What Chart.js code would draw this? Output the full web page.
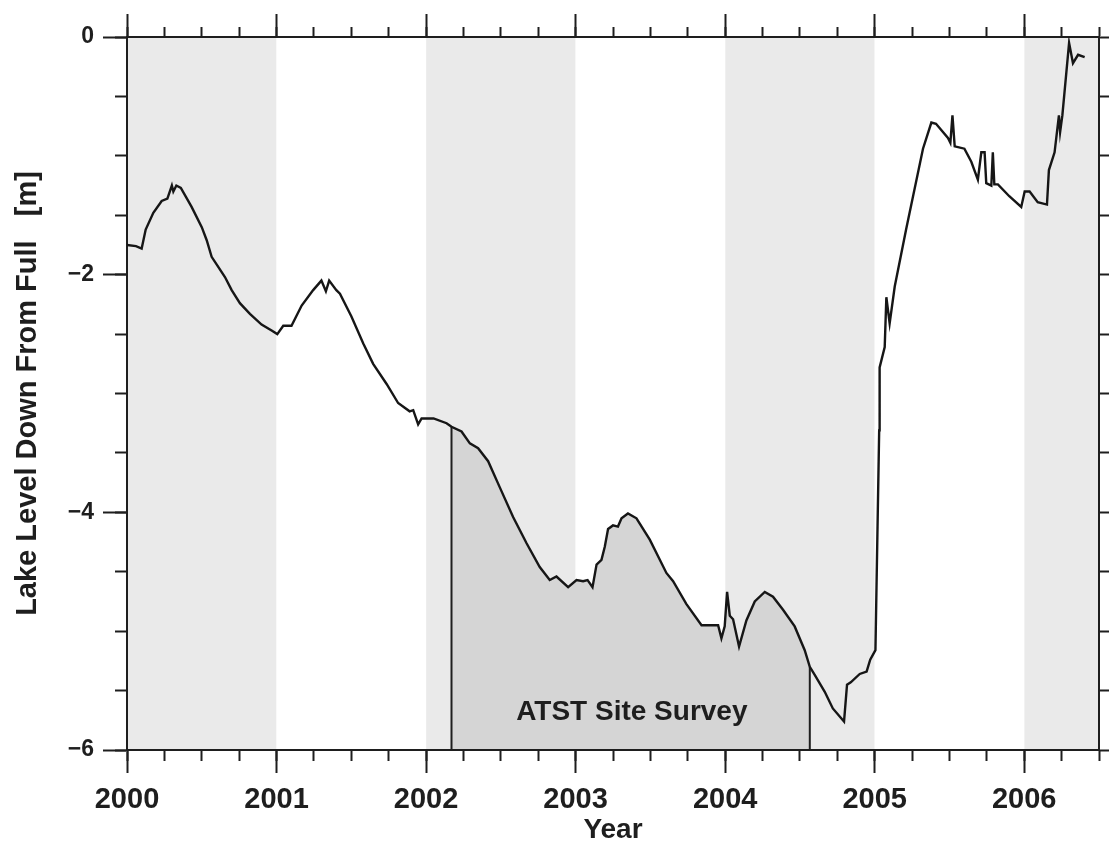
<!DOCTYPE html>
<html>
<head>
<meta charset="utf-8">
<title>Lake Level Down From Full</title>
<script src="https://cdn.jsdelivr.net/npm/chart.js@4.4.1/dist/chart.umd.min.js"></script>
<style>
    html, body { margin: 0; padding: 0; background: #ffffff; }
    #chartBox { width: 1113px; height: 847px; }
</style>
</head>
<body>
<div id="chartBox"><canvas id="lakeChart" width="1113" height="847"></canvas></div>
<script>
// Lake level readings: decimal year and metres below full
const years = [
    2000.000, 2000.060, 2000.098, 2000.125, 2000.176, 2000.232, 2000.270, 2000.300, 2000.310, 2000.330,
    2000.360, 2000.432, 2000.500, 2000.533, 2000.566, 2000.655, 2000.700, 2000.755, 2000.822, 2000.900,
    2000.967, 2001.005, 2001.045, 2001.100, 2001.168, 2001.245, 2001.300, 2001.330, 2001.352, 2001.400,
    2001.424, 2001.500, 2001.580, 2001.646, 2001.736, 2001.813, 2001.890, 2001.914, 2001.947, 2001.970,
    2002.050, 2002.137, 2002.170, 2002.237, 2002.293, 2002.348, 2002.415, 2002.493, 2002.582, 2002.672,
    2002.760, 2002.827, 2002.872, 2002.950, 2003.006, 2003.050, 2003.080, 2003.113, 2003.140, 2003.173,
    2003.195, 2003.217, 2003.250, 2003.283, 2003.307, 2003.350, 2003.407, 2003.496, 2003.607, 2003.652,
    2003.740, 2003.842, 2003.953, 2003.975, 2003.997, 2004.013, 2004.031, 2004.053, 2004.093, 2004.142,
    2004.198, 2004.265, 2004.320, 2004.387, 2004.465, 2004.532, 2004.566, 2004.600, 2004.666, 2004.720,
    2004.795, 2004.815, 2004.840, 2004.900, 2004.946, 2004.970, 2005.005, 2005.030, 2005.033, 2005.067,
    2005.078, 2005.100, 2005.134, 2005.210, 2005.323, 2005.379, 2005.410, 2005.490, 2005.506, 2005.520,
    2005.535, 2005.600, 2005.646, 2005.690, 2005.713, 2005.735, 2005.746, 2005.780, 2005.790, 2005.800,
    2005.824, 2005.900, 2005.980, 2006.003, 2006.036, 2006.090, 2006.152, 2006.165, 2006.203, 2006.232,
    2006.240, 2006.255, 2006.300, 2006.326, 2006.360, 2006.404
];
const levels = [
    -1.75, -1.76, -1.78, -1.62, -1.48, -1.38, -1.36, -1.25, -1.30, -1.25,
    -1.27, -1.43, -1.60, -1.71, -1.85, -2.02, -2.13, -2.24, -2.33, -2.42,
    -2.47, -2.50, -2.43, -2.43, -2.26, -2.13, -2.05, -2.14, -2.05, -2.13,
    -2.16, -2.35, -2.58, -2.75, -2.92, -3.08, -3.15, -3.14, -3.26, -3.21,
    -3.21, -3.25, -3.28, -3.32, -3.42, -3.46, -3.57, -3.79, -4.04, -4.26,
    -4.46, -4.57, -4.54, -4.63, -4.57, -4.58, -4.57, -4.63, -4.44, -4.40,
    -4.29, -4.14, -4.11, -4.12, -4.05, -4.01, -4.05, -4.23, -4.51, -4.58,
    -4.77, -4.95, -4.95, -5.06, -4.96, -4.67, -4.87, -4.90, -5.13, -4.91,
    -4.75, -4.67, -4.71, -4.82, -4.96, -5.16, -5.30, -5.37, -5.51, -5.65,
    -5.76, -5.45, -5.43, -5.36, -5.34, -5.24, -5.16, -3.31, -2.78, -2.61,
    -2.19, -2.41, -2.10, -1.62, -0.94, -0.72, -0.73, -0.85, -0.89, -0.66,
    -0.92, -0.94, -1.05, -1.20, -0.97, -0.97, -1.23, -1.25, -0.97, -1.24,
    -1.24, -1.34, -1.43, -1.30, -1.30, -1.39, -1.41, -1.12, -0.97, -0.66,
    -0.80, -0.66, -0.05, -0.22, -0.15, -0.17
];

// Axis ranges and labelled ticks
const xMin = 2000;
const xMax = 2006.5;
const yMin = -6;
const yMax = 0;
const yearTicks = [2000, 2001, 2002, 2003, 2004, 2005, 2006];
const levelTicks = [0, -2, -4, -6];

// Shaded year bands
const bandStarts = [2000, 2002, 2004, 2006];
const bandEnds = [2001, 2003, 2005, 2006.5];

// Survey period
const surveyStart = 2002.170;
const surveyEnd = 2004.566;
const surveyLabel = 'ATST Site Survey';
const surveyLabelX = 2003.376;
const surveyLabelY = -5.68;

const axisColor = '#1e1e1e';
const textColor = '#1e1e1e';
const fontFamily = '"Liberation Sans", Arial, Helvetica, sans-serif';

Chart.defaults.font.family = fontFamily;

const lakePoints = years.map((x, i) => ({ x: x, y: levels[i] }));
const surveyPoints = lakePoints.filter(p => p.x >= surveyStart && p.x <= surveyEnd);

function levelAt(x) {
    const point = lakePoints.find(p => p.x === x);
    return point ? point.y : yMin;
}

// Format level tick with a real minus sign
function formatLevel(value) {
    if (value === 0) return '0';
    return (value < 0 ? '\u2212' : '') + Math.abs(value);
}

// Shared settings for the frame axes (ticks outside, no grid)
function frameAxis(position, tickLength, weight, range) {
    return {
        type: 'linear',
        position: position,
        weight: weight,
        min: range[0],
        max: range[1],
        grid: {
            drawOnChartArea: false,
            drawTicks: true,
            tickLength: tickLength,
            tickWidth: 2,
            tickColor: axisColor
        },
        border: { display: true, width: 2, color: axisColor }
    };
}

function bandDatasets() {
    return bandStarts.map((start, i) => ({
        label: 'band' + i,
        data: [{ x: start, y: yMax }, { x: bandEnds[i], y: yMax }],
        fill: 'start',
        backgroundColor: '#eaeaea',
        borderColor: 'transparent',
        borderWidth: 0,
        pointRadius: 0,
        order: 4
    }));
}

function edgeDataset(x) {
    return {
        label: 'edge' + x,
        data: [{ x: x, y: yMin }, { x: x, y: levelAt(x) }],
        borderColor: axisColor,
        borderWidth: 2,
        pointRadius: 0,
        fill: false,
        order: 1
    };
}

// Survey caption, placed in data coordinates
const surveyLabelPlugin = {
    id: 'surveyLabel',
    afterDatasetsDraw(chart) {
        const { ctx, scales } = chart;
        ctx.save();
        ctx.font = 'bold 28px ' + fontFamily;
        ctx.fillStyle = textColor;
        ctx.textAlign = 'center';
        ctx.textBaseline = 'middle';
        ctx.fillText(surveyLabel, scales.x.getPixelForValue(surveyLabelX), scales.y.getPixelForValue(surveyLabelY));
        ctx.restore();
    }
};

function initializeLakeChart() {
    const ctx = document.getElementById('lakeChart');
    const xRange = [xMin, xMax];
    const yRange = [yMin, yMax];

    new Chart(ctx, {
        type: 'line',
        data: {
            datasets: [
                {
                    label: 'Lake level',
                    data: lakePoints,
                    borderColor: '#161616',
                    borderWidth: 2.4,
                    pointRadius: 0,
                    fill: false,
                    order: 0
                },
                edgeDataset(surveyStart),
                edgeDataset(surveyEnd),
                {
                    label: 'Survey',
                    data: surveyPoints,
                    fill: 'start',
                    backgroundColor: '#d5d5d5',
                    borderColor: 'transparent',
                    borderWidth: 0,
                    pointRadius: 0,
                    order: 2
                }
            ].concat(bandDatasets())
        },
        options: {
            responsive: false,
            maintainAspectRatio: false,
            animation: false,
            layout: { padding: 0 },
            plugins: {
                legend: { display: false },
                tooltip: { enabled: false },
                // fills go down first so the frame lines sit on top of them
                filler: { drawTime: 'beforeDraw' }
            },
            scales: {
                x: Object.assign(frameAxis('bottom', 23, 1, xRange), {
                    afterFit: s => { s.height = 97; },
                    ticks: {
                        stepSize: 1,
                        includeBounds: false,
                        autoSkip: false,
                        maxRotation: 0,
                        padding: 10,
                        color: textColor,
                        font: { size: 29, weight: 'bold' },
                        callback: v => yearTicks.includes(v) ? String(v) : ''
                    },
                    title: {
                        display: true,
                        text: 'Year',
                        color: textColor,
                        font: { size: 28, weight: 'bold' },
                        padding: { top: 0, bottom: 0 }
                    }
                }),
                xMinor: Object.assign(frameAxis('bottom', 11, 0, xRange), {
                    afterFit: s => { s.height = 0; },
                    ticks: { display: false, stepSize: 0.25, maxTicksLimit: 100, autoSkip: false, includeBounds: false }
                }),
                xTop: Object.assign(frameAxis('top', 23, 1, xRange), {
                    afterFit: s => { s.height = 37; },
                    ticks: { display: false, stepSize: 1, autoSkip: false, includeBounds: false }
                }),
                xTopMinor: Object.assign(frameAxis('top', 10, 0, xRange), {
                    afterFit: s => { s.height = 0; },
                    ticks: { display: false, stepSize: 0.25, maxTicksLimit: 100, autoSkip: false, includeBounds: false }
                }),
                y: Object.assign(frameAxis('left', 24, 1, yRange), {
                    afterFit: s => { s.width = 127; },
                    ticks: {
                        stepSize: 2,
                        autoSkip: false,
                        padding: 9,
                        color: textColor,
                        font: { size: 23, weight: 'bold' },
                        callback: v => levelTicks.includes(v) ? formatLevel(v) : ''
                    },
                    title: {
                        display: true,
                        text: 'Lake Level Down From Full   [m]',
                        color: textColor,
                        font: { size: 29, weight: 'bold' },
                        padding: { top: 11, bottom: 0 }
                    }
                }),
                yMinor: Object.assign(frameAxis('left', 12, 0, yRange), {
                    afterFit: s => { s.width = 0; },
                    ticks: { display: false, stepSize: 0.5, autoSkip: false }
                }),
                yRight: Object.assign(frameAxis('right', 10, 0, yRange), {
                    afterFit: s => { s.width = 14; },
                    ticks: { display: false, stepSize: 0.5, autoSkip: false }
                })
            }
        },
        plugins: [surveyLabelPlugin]
    });
}

document.addEventListener('DOMContentLoaded', initializeLakeChart);
</script>
</body>
</html>
